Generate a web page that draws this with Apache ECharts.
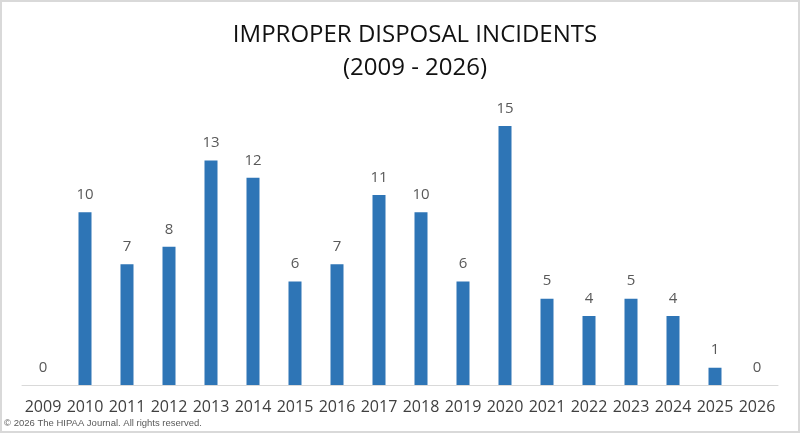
<!DOCTYPE html>
<html>
<head>
<meta charset="utf-8">
<script src="https://cdn.jsdelivr.net/npm/echarts@6/dist/echarts.min.js"></script>
<style>
  html, body { margin: 0; padding: 0; background: #fff; }
  #chart { width: 800px; height: 433px; }
</style>
</head>
<body>
<div id="chart"></div>
<script>
let years = ["2009", "2010", "2011", "2012", "2013", "2014", "2015", "2016", "2017",
  "2018", "2019", "2020", "2021", "2022", "2023", "2024", "2025", "2026"];
let incidents = [0, 10, 7, 8, 13, 12, 6, 7, 11, 10, 6, 15, 5, 4, 5, 4, 1, 0];

let myChart = echarts.init(document.getElementById("chart"));
let option = {
  animation: false,
  backgroundColor: "#fff",
  title: {
    text: "IMPROPER DISPOSAL INCIDENTS\n(2009 - 2026)",
    left: 410,
    textAlign: "center",
    top: 14,
    textStyle: {
      fontFamily: "Open Sans",
      fontWeight: "normal",
      fontSize: 24,
      lineHeight: 33,
      color: "#111",
    },
  },
  grid: {
    left: 22,
    right: 22,
    top: 126,
    bottom: 48,
    containLabel: false,
  },
  xAxis: {
    type: "category",
    data: years,
    axisLine: { lineStyle: { color: "#d9d9d9", width: 1 } },
    axisTick: { show: false },
    axisLabel: {
      color: "#404040",
      fontFamily: "Open Sans",
      fontSize: 16,
      margin: 14,
      interval: 0,
    },
  },
  yAxis: {
    type: "value",
    min: 0,
    max: 15,
    show: false,
    splitLine: { show: false },
  },
  series: [
    {
      type: "bar",
      data: incidents,
      barWidth: 13,
      itemStyle: { color: "#2E75B6" },
      label: {
        show: true,
        position: "top",
        distance: 10,
        color: "#595959",
        fontFamily: "Open Sans",
        fontSize: 15,
      },
    },
  ],
  graphic: [
    {
      type: "rect",
      shape: { x: 1, y: 1, width: 798, height: 431 },
      style: { fill: "none", stroke: "#d9d9d9", lineWidth: 2 },
      silent: true,
    },
    {
      type: "text",
      left: 4,
      top: 418,
      style: {
        text: "© 2026 The HIPAA Journal. All rights reserved.",
        fill: "#595959",
        font: "9.5px 'Liberation Sans', Arial, sans-serif",
      },
    },
  ],
};
myChart.setOption(option, true);
window.onresize = myChart.resize;
</script>
</body>
</html>
